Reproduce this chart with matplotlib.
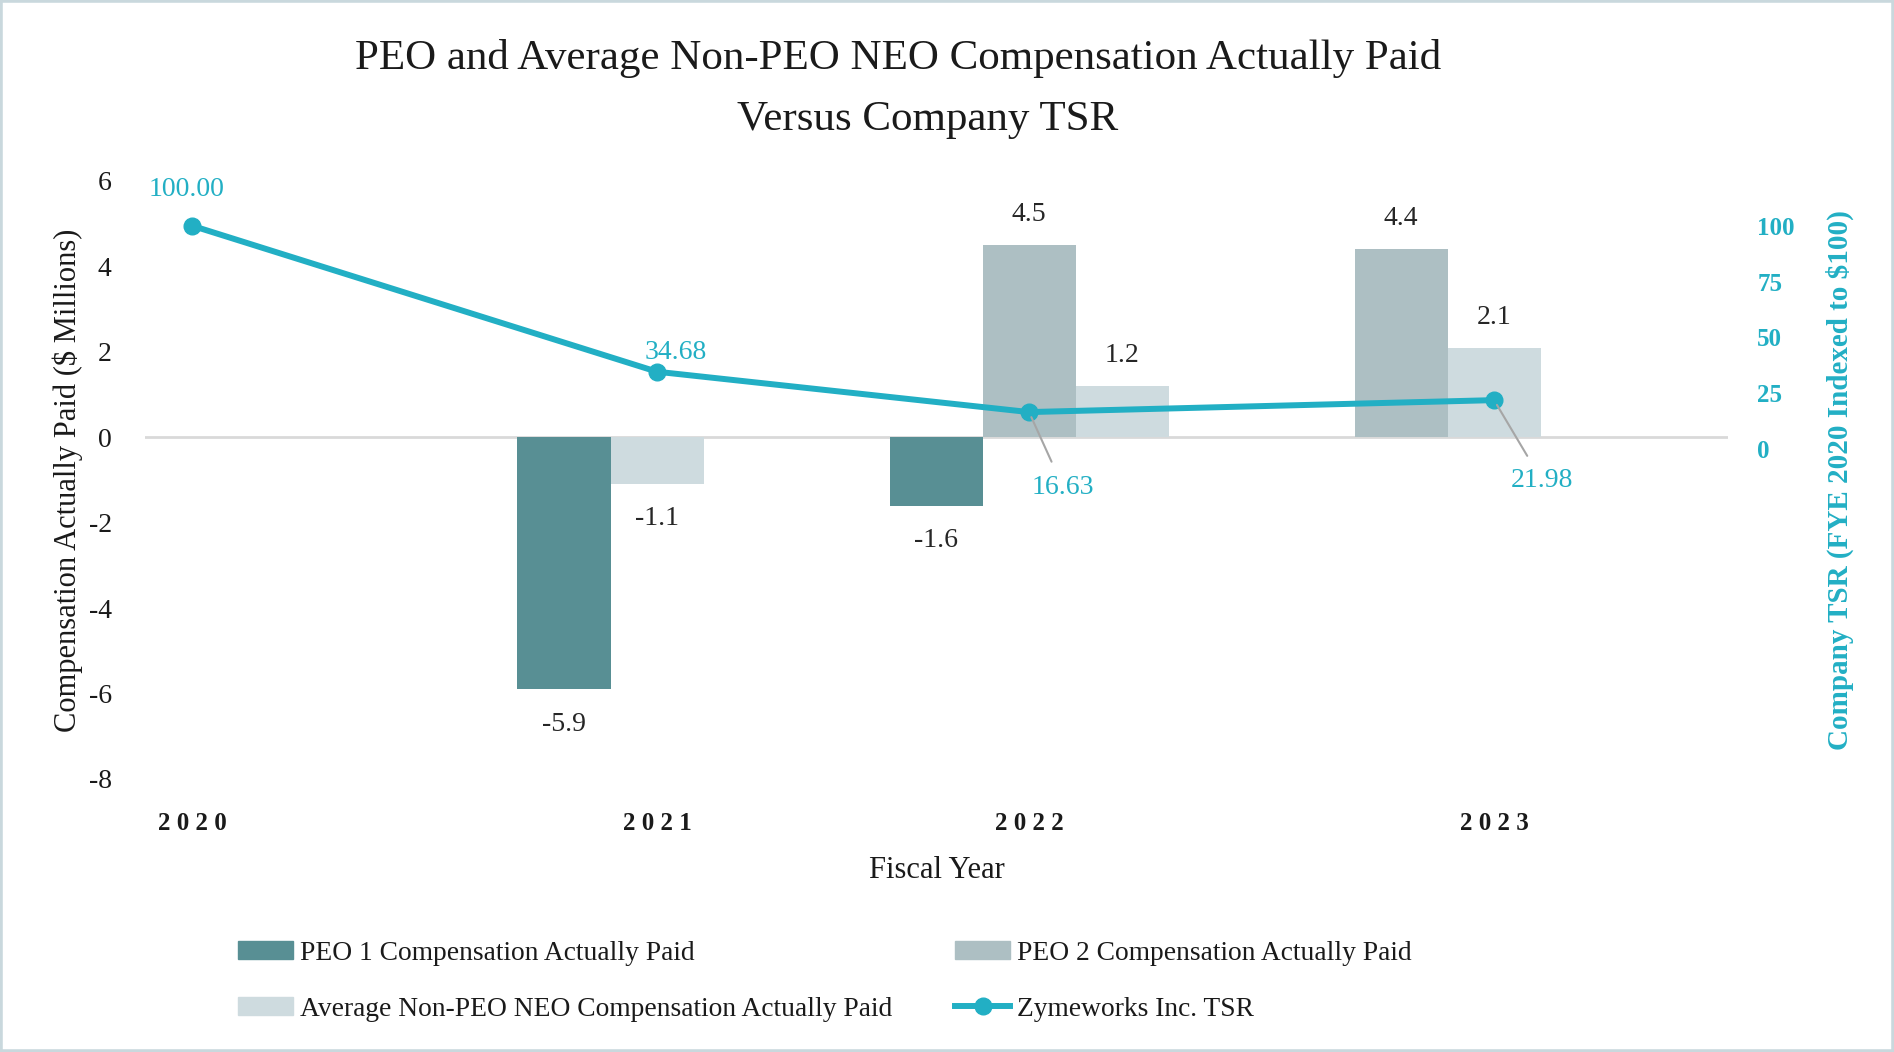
import matplotlib.pyplot as plt
import matplotlib.patches as mpatches
from matplotlib.lines import Line2D
import numpy as np

plt.rcParams['font.family'] = ['Liberation Serif', 'DejaVu Serif']
plt.rcParams['axes.unicode_minus'] = False

### chart data
years = ['2020', '2021', '2022', '2023']
peo1 = [None, -5.9, -1.6, None]
peo2 = [None, None, 4.5, 4.4]
avg_neo = [None, -1.1, 1.2, 2.1]
tsr = [100.00, 34.68, 16.63, 21.98]

names = ['PEO 1 Compensation Actually Paid', 'PEO 2 Compensation Actually Paid',
         'Average Non-PEO NEO Compensation Actually Paid', 'Zymeworks Inc. TSR']
colors = ['#588f94', '#adbfc3', '#cedbdf']
teal = '#22afc4'

# category positions on the x axis (as spaced in the original)
year_pos = [0, 1, 1.8, 2.8]
bw = 0.2

W, H = 1894, 1052
fig = plt.figure(figsize=(W / 100, H / 100), dpi=100)
ax = fig.add_axes([145 / W, 1 - 779 / H, (1728 - 145) / W, (779 - 181) / H])

# bars: in each year the bars that exist sit side by side from the left slot
for i, xp in enumerate(year_pos):
    slot = 0
    for vals, c in zip([peo1, peo2, avg_neo], colors):
        v = vals[i]
        if v is None:
            continue
        x = xp - bw + slot * bw
        ax.bar(x, v, width=bw, color=c, zorder=2)
        off = 22 if v > 0 else -25
        ax.annotate(f'{v:.1f}', (x, v), xytext=(0, off), textcoords='offset points',
                    ha='center', va='center', fontsize=20, color='#262626')
        slot += 1

ax.axhline(0, color='#d9d9d9', lw=2, zorder=1)
ax.set_xlim(-0.101, 3.303)
ax.set_ylim(-8, 6)
ax.set_yticks(np.arange(-8, 7, 2))
ax.set_xticks(year_pos)
ax.set_xticklabels([' '.join(y) for y in years], fontweight='bold', fontsize=18, color='#1a1a1a')
ax.tick_params(axis='y', length=0, pad=24, labelsize=20, labelcolor='#1a1a1a')
ax.tick_params(axis='x', length=0, pad=24)
for s in ax.spines.values():
    s.set_visible(False)
ax.set_ylabel('Compensation Actually Paid ($ Millions)', fontsize=22, color='#1a1a1a', labelpad=4)
ax.set_xlabel('Fiscal Year', fontsize=22, color='#1a1a1a', labelpad=15)

# TSR line on the right axis
ax2 = ax.twinx()
ax2.plot(year_pos, tsr, color=teal, lw=4.3, marker='o', markersize=12, zorder=3)
ax2.set_ylim(-147.5, 120)
ax2.set_yticks([0, 25, 50, 75, 100])
ax2.set_yticklabels(['0', '25', '50', '75', '100'], fontweight='bold')
ax2.tick_params(axis='y', length=0, pad=21, labelsize=18, labelcolor=teal)
for s in ax2.spines.values():
    s.set_visible(False)
ax2.set_ylabel('Company TSR (FYE 2020 Indexed to $100)', fontsize=21, fontweight='bold',
               color=teal, labelpad=22)

tsr_offsets = [(-3.6, 26), (13.7, 14), (24.5, -54), (34.5, -58)]
for xp, v, off in zip(year_pos, tsr, tsr_offsets):
    if off[1] < 0:
        ax2.annotate(f'{v:.2f}', (xp, v), xytext=off, textcoords='offset points',
                     ha='center', va='center', fontsize=20, color=teal,
                     arrowprops=dict(arrowstyle='-', color='#a6a6a6', lw=1.5, shrinkA=8, shrinkB=4))
    else:
        ax2.annotate(f'{v:.2f}', (xp, v), xytext=off, textcoords='offset points',
                     ha='center', va='center', fontsize=20, color=teal)

# title
fig.text(898 / W, 1 - 59 / H, 'PEO and Average Non-PEO NEO Compensation Actually Paid',
         ha='center', va='center', fontsize=31, color='#1a1a1a')
fig.text(928 / W, 1 - 120 / H, 'Versus Company TSR',
         ha='center', va='center', fontsize=31, color='#1a1a1a')

# legend, one entry per spot
handles = [mpatches.Patch(color=colors[0]), mpatches.Patch(color=colors[1]),
           mpatches.Patch(color=colors[2]),
           Line2D([], [], color=teal, lw=4.3, marker='o', markersize=12)]
spots = [(238, 953), (955, 953), (238, 1009), (955, 1009)]
for h, n, (px, py) in zip(handles, names, spots):
    leg = fig.legend([h], [n], loc='center left', bbox_to_anchor=(px / W, 1 - py / H),
                     frameon=False, fontsize=19.8, handlelength=2.0, handleheight=0.6,
                     handletextpad=0.25, borderpad=0, borderaxespad=0)
    for t in leg.get_texts():
        t.set_color('#1a1a1a')

fig.patches.append(mpatches.Rectangle((0, 0), 1, 1, transform=fig.transFigure, fill=False,
                                      edgecolor='#c9d8dd', linewidth=4))

fig.savefig('out.png', dpi=100)
